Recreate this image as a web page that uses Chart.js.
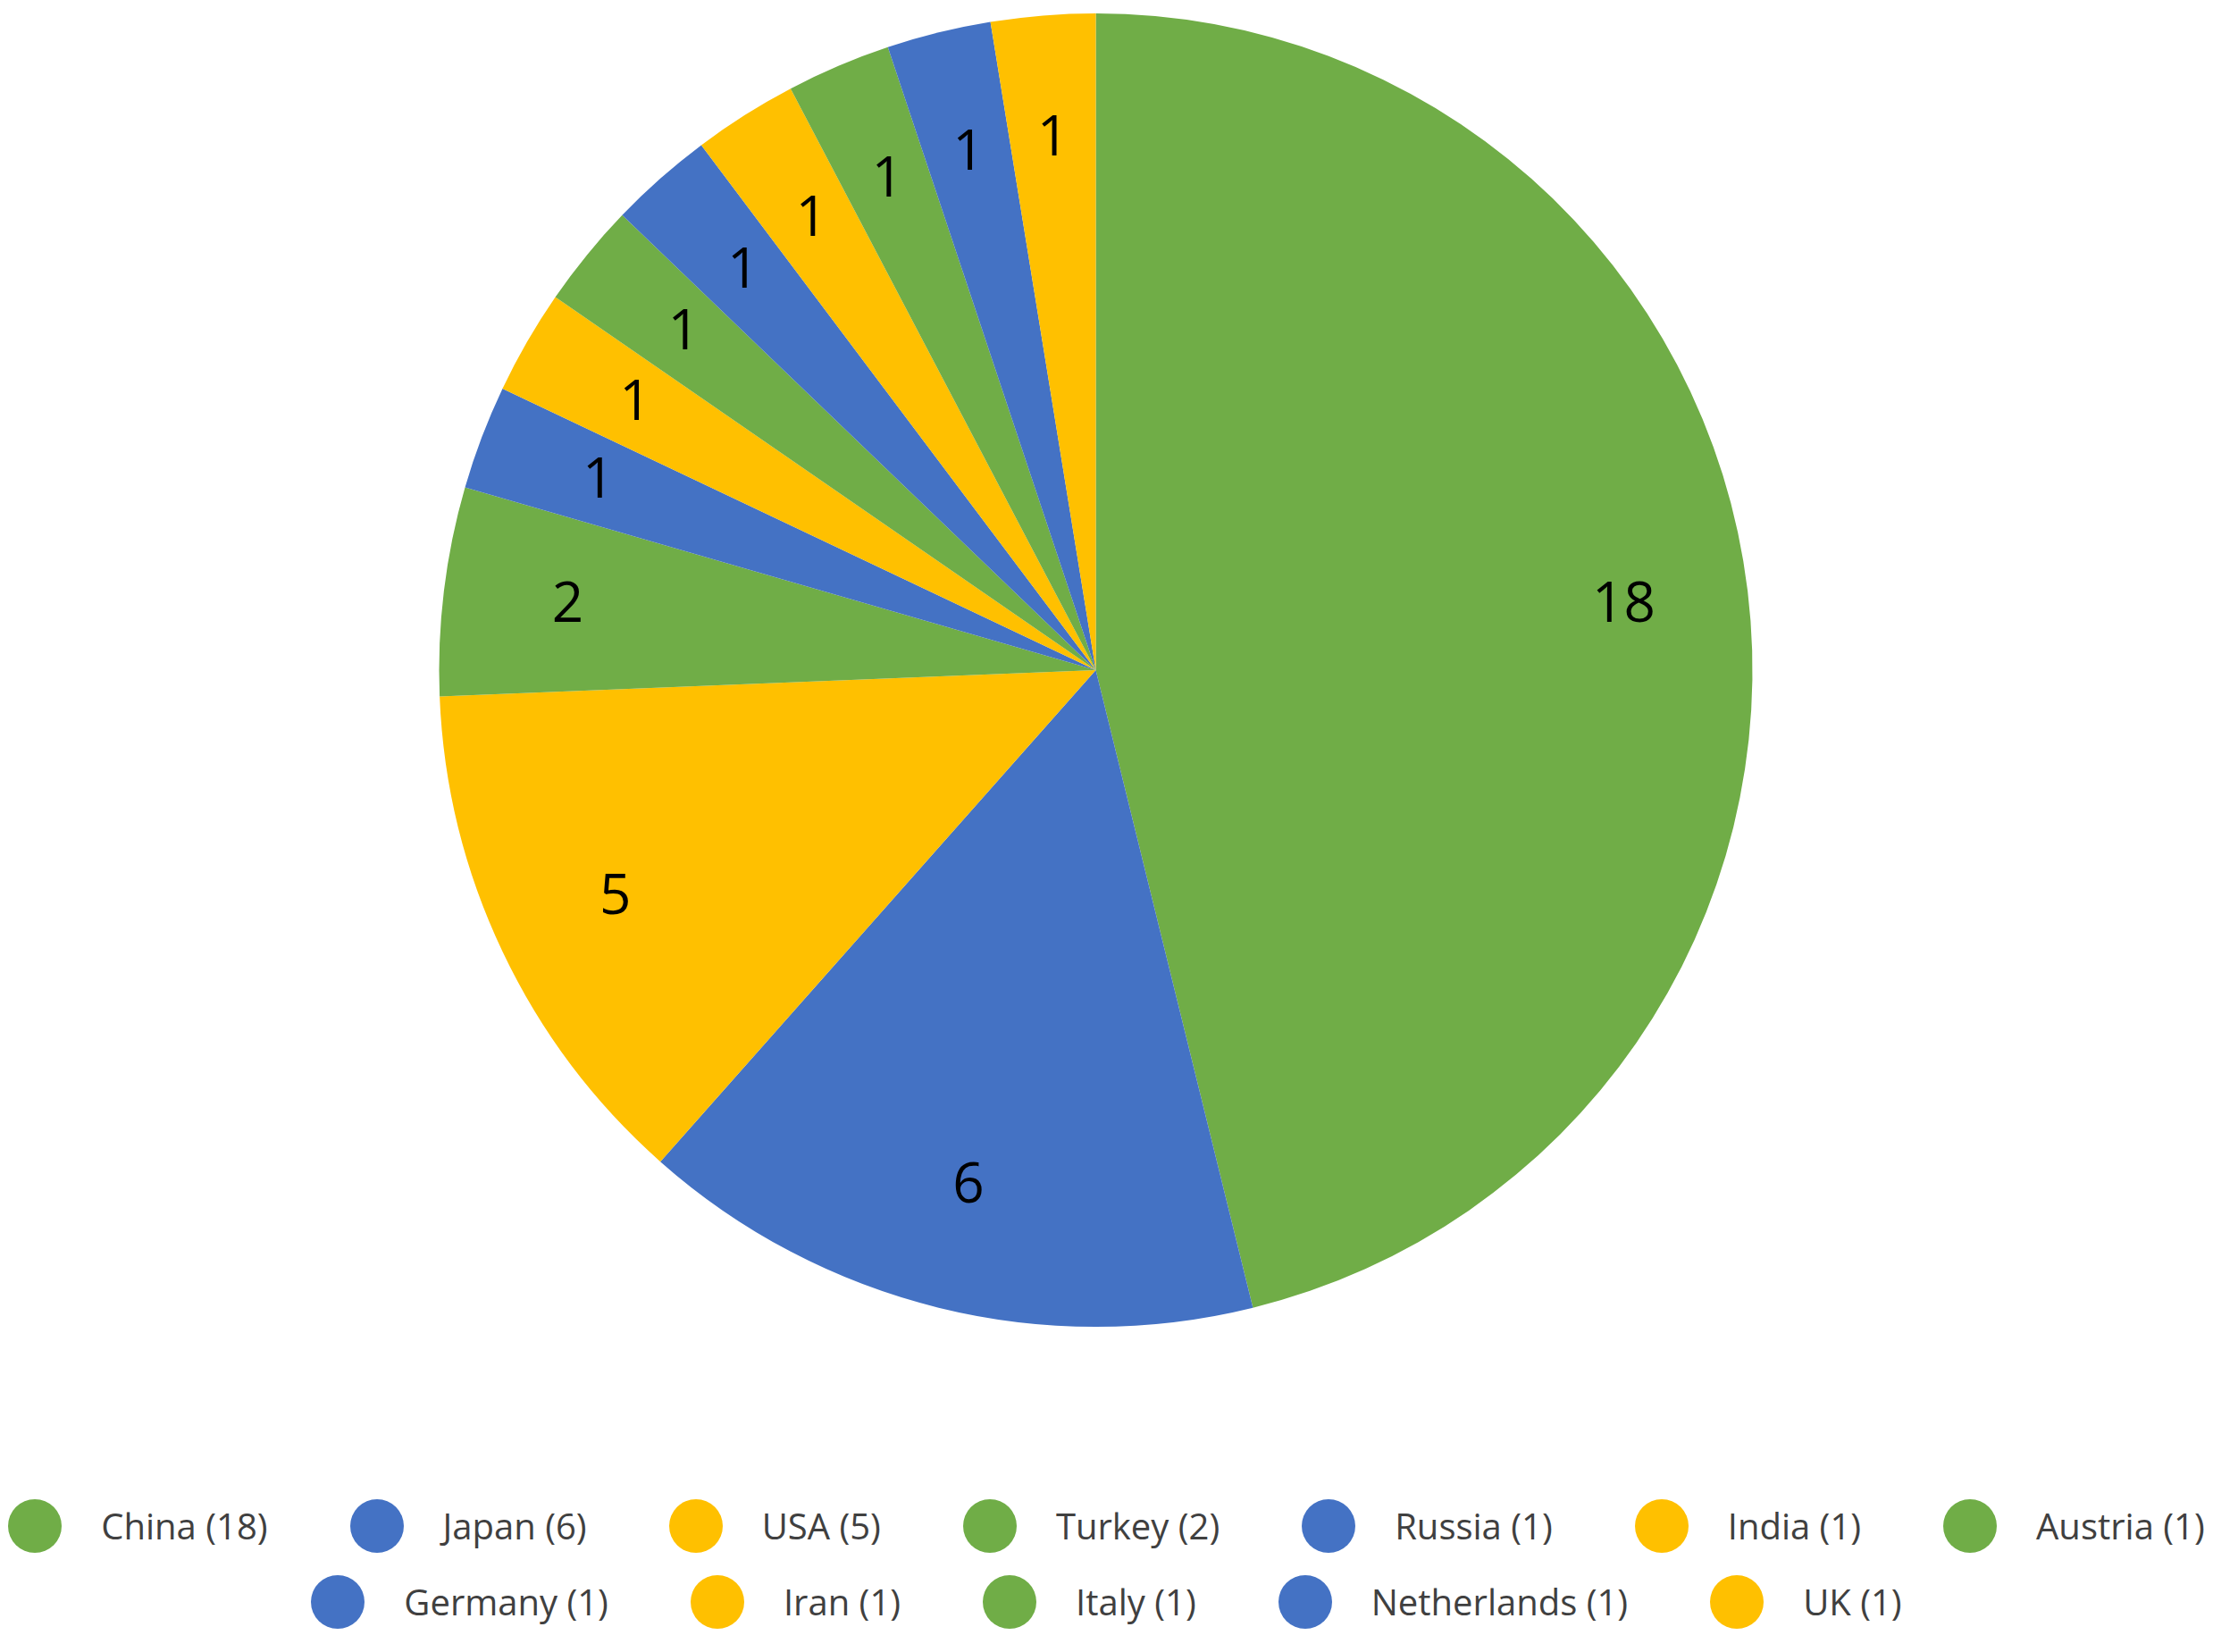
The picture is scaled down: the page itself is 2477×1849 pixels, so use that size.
<!DOCTYPE html>
<html>
<head>
<meta charset="utf-8">
<script src="https://cdn.jsdelivr.net/npm/chart.js@4"></script>
<style>
  html, body { margin: 0; padding: 0; background: #fff; }
  #wrap { width: 2477px; height: 1849px; position: relative; }
  #chartBox { width: 2477px; height: 1500px; }
  #legend { position: absolute; left: 0; top: 1665px; width: 2477px;
    font-family: "Open Sans", Lato, sans-serif; font-size: 40px; color: #404040; }
  .row { display: flex; justify-content: center; gap: 92px; height: 85px; align-items: center; }
  .item { display: flex; align-items: center; gap: 44px; white-space: nowrap; }
  .dot { width: 60px; height: 60px; border-radius: 50%; }
</style>
</head>
<body>
<div id="wrap">
  <div id="chartBox"><canvas id="pie"></canvas></div>
  <div id="legend"></div>
</div>
<script>
var countries = ['China', 'Japan', 'USA', 'Turkey', 'Russia', 'India', 'Austria',
                 'Germany', 'Iran', 'Italy', 'Netherlands', 'UK'];
var counts = [18, 6, 5, 2, 1, 1, 1, 1, 1, 1, 1, 1];
var GREEN = '#70AD47', BLUE = '#4472C4', YELLOW = '#FFC000';
var sliceColors = [GREEN, BLUE, YELLOW, GREEN, BLUE, YELLOW, GREEN,
                   BLUE, YELLOW, GREEN, BLUE, YELLOW];
var legendRows = [7, 5];

var legendLabels = countries.map(function(c, i) { return c + ' (' + counts[i] + ')'; });

// value labels inside each slice
var sliceLabels = {
    id: 'sliceLabels',
    afterDatasetsDraw: function(chart) {
        var ctx = chart.ctx;
        var meta = chart.getDatasetMeta(0);
        ctx.save();
        ctx.fillStyle = '#000';
        ctx.font = '62px "Open Sans", Lato, sans-serif';
        ctx.textAlign = 'center';
        ctx.textBaseline = 'middle';
        meta.data.forEach(function(arc, i) {
            var p = arc.getProps(['x', 'y', 'startAngle', 'endAngle', 'outerRadius'], true);
            var mid = (p.startAngle + p.endAngle) / 2;
            var r = p.outerRadius * 0.81;
            ctx.fillText(String(counts[i]), p.x + Math.cos(mid) * r, p.y + Math.sin(mid) * r);
        });
        ctx.restore();
    }
};

new Chart(document.getElementById('pie'), {
    type: 'pie',
    data: {
        labels: legendLabels,
        datasets: [{
            data: counts,
            backgroundColor: sliceColors,
            borderWidth: 0
        }]
    },
    options: {
        responsive: true,
        maintainAspectRatio: false,
        animation: false,
        layout: { padding: { top: 15, bottom: 15, left: 0, right: 24 } },
        plugins: {
            legend: { display: false },
            tooltip: { enabled: false }
        }
    },
    plugins: [sliceLabels]
});

// HTML legend in two rows
var legend = document.getElementById('legend');
var idx = 0;
legendRows.forEach(function(n) {
    var row = document.createElement('div');
    row.className = 'row';
    for (var k = 0; k < n; k++, idx++) {
        var item = document.createElement('div');
        item.className = 'item';
        var dot = document.createElement('span');
        dot.className = 'dot';
        dot.style.background = sliceColors[idx];
        var txt = document.createElement('span');
        txt.textContent = legendLabels[idx];
        item.appendChild(dot);
        item.appendChild(txt);
        row.appendChild(item);
    }
    legend.appendChild(row);
});
</script>
</body>
</html>
